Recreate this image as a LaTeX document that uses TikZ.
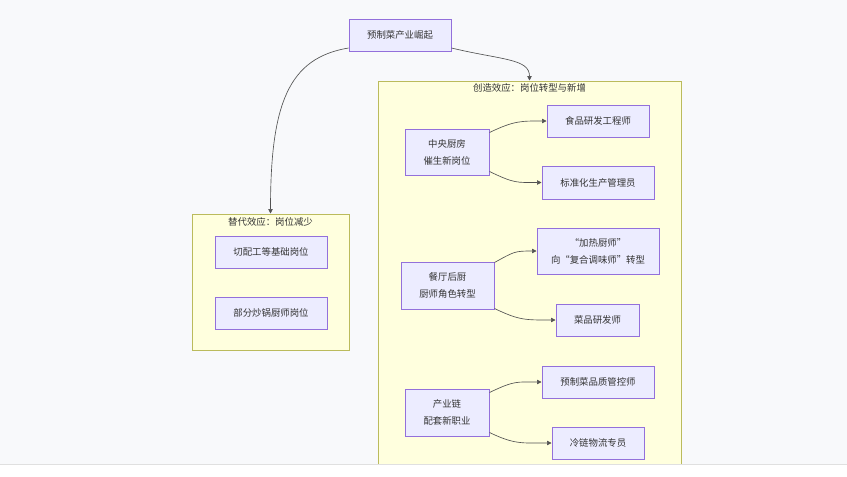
\documentclass[tikz,border=0pt]{standalone}
\usepackage{fontspec}
\setmainfont{Noto Sans CJK SC}
\usetikzlibrary{arrows.meta}
\definecolor{nodefill}{HTML}{ECECFF}
\definecolor{nodeline}{HTML}{9370DB}
\definecolor{groupfill}{HTML}{FFFFDE}
\definecolor{groupline}{HTML}{AAAA33}
\definecolor{inkgray}{HTML}{333333}
\definecolor{pagebg}{HTML}{F8F9FB}
\begin{document}
\begin{tikzpicture}[x=1pt,y=-1pt,
    role/.style={draw=nodeline,fill=nodefill,line width=1pt,inner sep=0pt,
      align=center,text=inkgray,font=\fontsize{9.4}{17}\selectfont},
    group/.style={draw=groupline!80,fill=groupfill,line width=1pt,inner sep=0pt},
    grouptitle/.style={text=inkgray,inner sep=0pt,font=\fontsize{9.4}{12}\selectfont},
    link/.style={draw=inkgray!85,line width=0.65pt,-{Triangle[length=4.5pt,width=4.5pt]}}]
      \useasboundingbox (0,0) rectangle (847,477);
      \fill[pagebg] (0,0) rectangle (847,464);
      \draw
        (400,35) node[role,minimum width=102pt,minimum height=32pt] (top){预制菜产业崛起}
        (270.5,282) node[group,minimum width=157pt,minimum height=136pt] (lc){}
        (529.5,285.5) node[group,minimum width=303pt,minimum height=409pt] (rc){}
        (270.5,221.5) node[grouptitle] (lct){替代效应：岗位减少}
        (529.5,88) node[grouptitle] (rct){创造效应：岗位转型与新增}
        (271,252) node[role,minimum width=112pt,minimum height=32pt] (l1){切配工等基础岗位}
        (271,313) node[role,minimum width=112pt,minimum height=32pt] (l2){部分炒锅厨师岗位}
        (447,152) node[role,minimum width=84pt,minimum height=46pt] (ck){中央厨房\\催生新岗位}
        (598,121) node[role,minimum width=102pt,minimum height=32pt] (ck1){食品研发工程师}
        (598,182.5) node[role,minimum width=112pt,minimum height=33pt] (ck2){标准化生产管理员}
        (447.5,285.5) node[role,minimum width=93pt,minimum height=47pt] (rs){餐厅后厨\\厨师角色转型}
        (598,251) node[role,minimum width=122pt,minimum height=46pt] (rs1){“加热厨师”\\向“复合调味师”转型}
        (597.5,320) node[role,minimum width=83pt,minimum height=32pt] (rs2){菜品研发师}
        (447,412.5) node[role,minimum width=84pt,minimum height=47pt] (ic){产业链\\配套新职业}
        (598,382) node[role,minimum width=112pt,minimum height=32pt] (ic1){预制菜品质管控师}
        (598,443) node[role,minimum width=92pt,minimum height=32pt] (ic2){冷链物流专员};
      \begin{scope}[link]
        \draw ([yshift=-13pt]top.west) .. controls +(-60,10) and +(0,-110) .. (lc.north);
        \draw ([yshift=-13pt]top.east) .. controls +(50,12) and +(0,-22) .. (rc.north);
        \draw ([yshift=-4pt]ck.north east) .. controls +(25,-12) and +(-25,0) .. (ck1.west);
        \draw ([yshift=4pt]ck.south east) .. controls +(25,12) and +(-25,0) .. (ck2.west);
        \draw ([yshift=-1pt]rs.north east) .. controls +(20,-11) and +(-22,0) .. (rs1.west);
        \draw ([yshift=1pt]rs.south east) .. controls +(25,12) and +(-30,0) .. (rs2.west);
        \draw ([yshift=-4pt]ic.north east) .. controls +(25,-12) and +(-25,0) .. (ic1.west);
        \draw ([yshift=4pt]ic.south east) .. controls +(25,12) and +(-30,0) .. (ic2.west);
      \end{scope}
      \fill[white] (0,464) rectangle (847,477);
      \draw[line width=1pt,black!12] (0,464.5) -- (847,464.5);
    \end{tikzpicture}
\end{document}
